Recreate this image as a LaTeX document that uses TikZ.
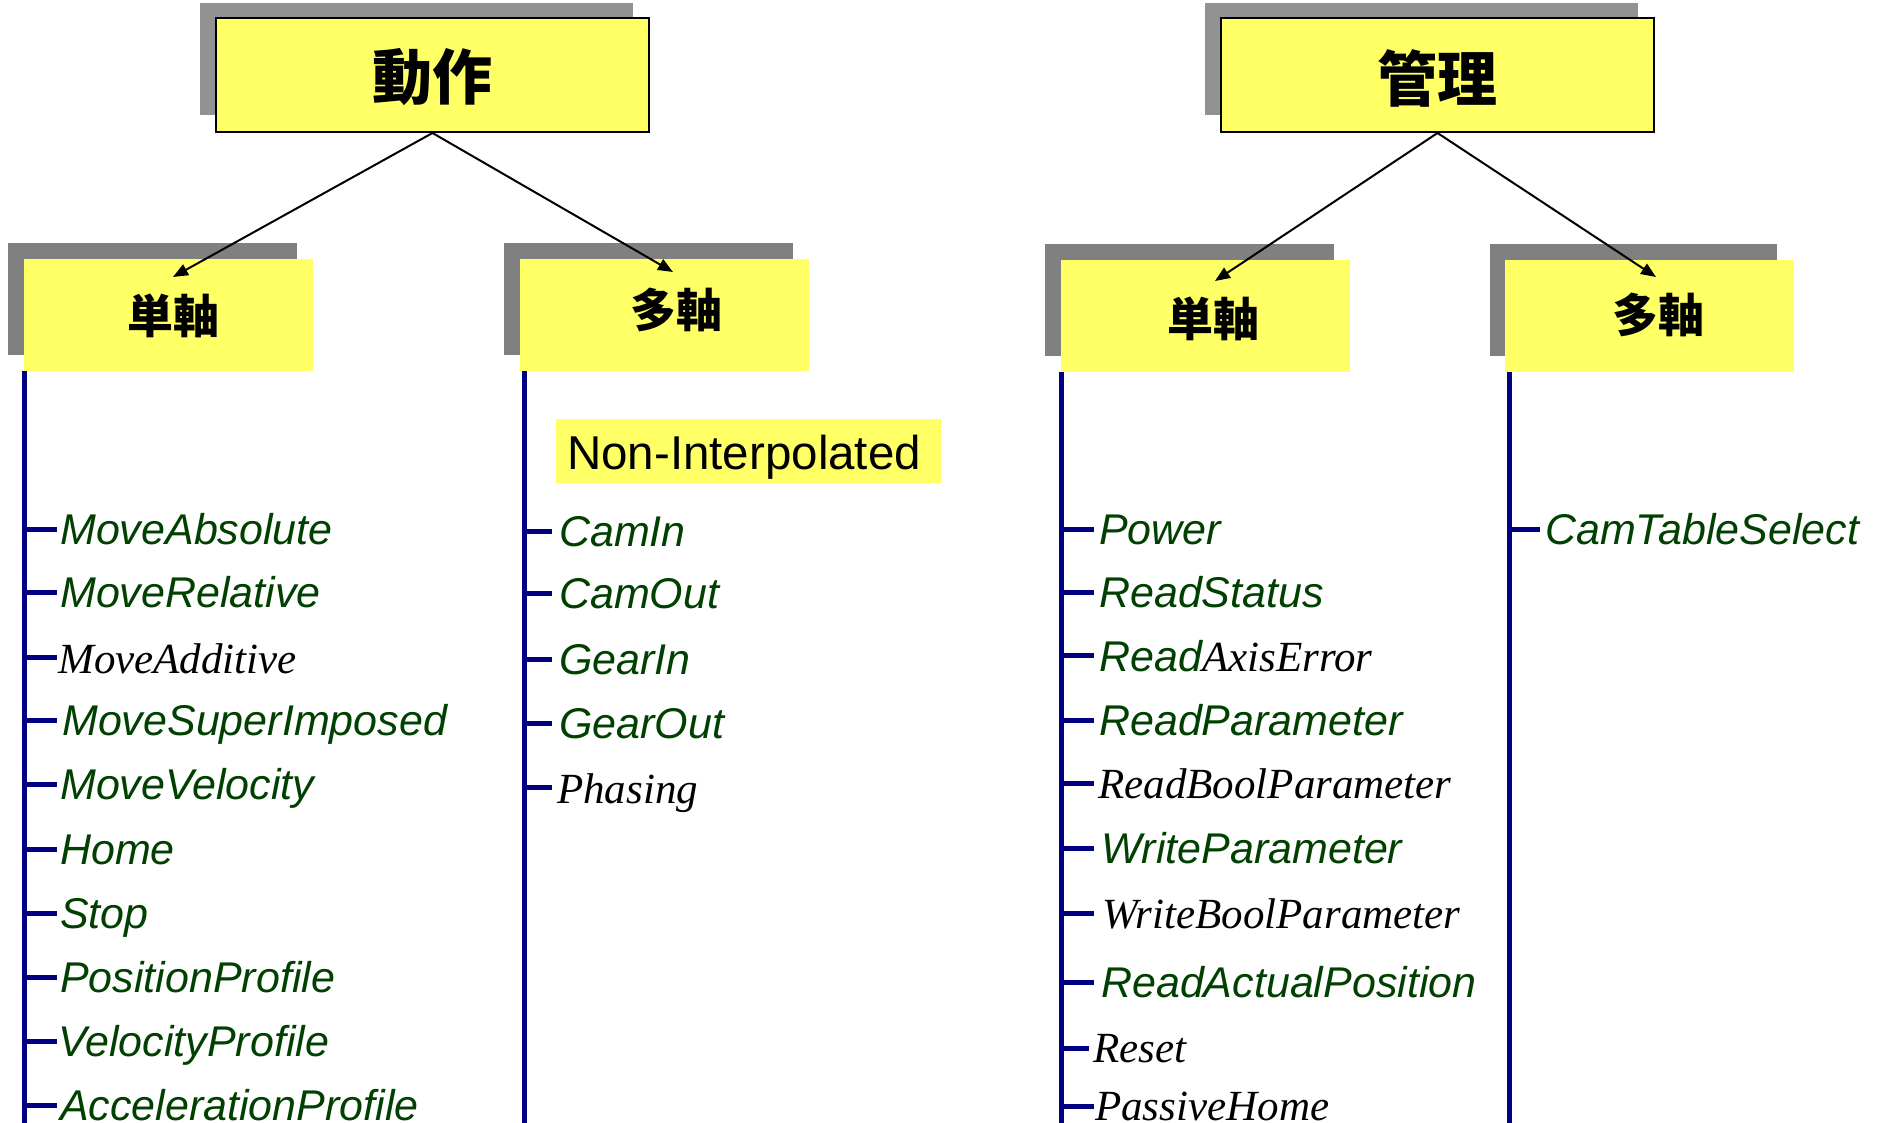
\documentclass[tikz,border=0pt]{standalone}
\usepackage{fontspec}
\setmainfont{Liberation Sans}
\newfontfamily\serifit{Liberation Serif}
\newfontfamily\cjk{Noto Sans CJK JP}
\usetikzlibrary{arrows.meta}
\definecolor{boxyellow}{RGB}{255,255,102}
\definecolor{shadowgray}{RGB}{128,128,128}
\definecolor{shadowlight}{RGB}{146,146,146}
\definecolor{navyline}{RGB}{0,0,128}
\definecolor{itemgreen}{RGB}{0,64,0}
\tikzset{
 topbox/.style={draw=black, line width=2pt, fill=boxyellow, minimum width=433pt, minimum height=114pt, inner sep=0pt},
 toptext/.style={inner sep=0pt, font=\cjk\bfseries\fontsize{60}{60}\selectfont},
 subbox/.style={fill=boxyellow, minimum width=289pt, minimum height=112pt, inner sep=0pt},
 subtext/.style={inner sep=0pt, font=\cjk\bfseries\fontsize{46}{46}\selectfont},
 trunk/.style={navyline, line width=5pt},
 tickline/.style={navyline, line width=5pt},
 gitem/.style={anchor=base west, inner sep=0pt, text=itemgreen, font=\fontsize{43}{50}\selectfont\itshape},
 sitem/.style={anchor=base west, inner sep=0pt, text=black, font=\serifit\fontsize{43}{50}\selectfont\itshape},
 arr/.style={-{Triangle[length=15pt,width=12pt]}, line width=2pt, black},
}
\begin{document}
\begin{tikzpicture}[x=1pt,y=-1pt]
\useasboundingbox (0,0) rectangle (1882,1123);
\fill[white] (0,0) rectangle (1882,1123);

% shadows
\fill[shadowlight] (200,3) rectangle (633,115);
\fill[shadowlight] (1205,3) rectangle (1638,115);
\fill[shadowgray] (8,243) rectangle (297,355);
\fill[shadowgray] (504,243) rectangle (793,355);
\fill[shadowgray] (1045,244) rectangle (1334,356);
\fill[shadowgray] (1490,244) rectangle (1777,356);

% top boxes
\node[topbox] (dosa) at (432.5,75) {};
\node[toptext] (dosaT) at (432,77) {動作};
\node[topbox] (kanri) at (1437.5,75) {};
\node[toptext] (kanriT) at (1437,78) {管理};

% sub boxes
\node[subbox] (ls) at (168.5,315) {};
\node[subtext] (lsT) at (173,316) {単軸};
\node[subbox] (lm) at (664.5,315) {};
\node[subtext] (lmT) at (676,310) {多軸};
\node[subbox] (rs) at (1205.5,316) {};
\node[subtext] (rsT) at (1213,319) {単軸};
\node[subbox] (rm) at (1649.5,316) {};
\node[subtext] (rmT) at (1658,315) {多軸};

% arrows
\coordinate (tls) at (173,277);
\coordinate (tlm) at (673,272);
\coordinate (trs) at (1215,281);
\coordinate (trm) at (1656,277);
\draw[arr] (dosa.south) -- (tls);
\draw[arr] (dosa.south) -- (tlm);
\draw[arr] (kanri.south) -- (trs);
\draw[arr] (kanri.south) -- (trm);

% trunks
\coordinate (bls) at (24,1123);
\coordinate (blm) at (524,1123);
\coordinate (brs) at (1061,1123);
\coordinate (brm) at (1509,1123);
\draw[trunk] (ls.south west -| bls) -- (bls);
\draw[trunk] (524,371) -- (blm);
\draw[trunk] (rs.south west -| brs) -- (brs);
\draw[trunk] (1509,372) -- (brm);

% Non-Interpolated
\node[fill=boxyellow, minimum width=385pt, minimum height=64pt, inner sep=0pt] (nibox) at (748.5,451) {};
\node[anchor=base west, inner sep=0pt, font=\fontsize{47.5}{50}\selectfont] (nitext) at (567,469) {Non-Interpolated};

% left column items
\foreach \y in {529,592,657,720,784,849,913,977,1041,1105}
  \draw[tickline] (24,\y) -- (57,\y);
\node[gitem] (a1) at (60,544) {MoveAbsolute};
\node[gitem] (a2) at (60,607) {MoveRelative};
\node[sitem] (a3) at (58,673) {MoveAdditive};
\node[gitem] (a4) at (62,735) {MoveSuperImposed};
\node[gitem] (a5) at (60,799) {MoveVelocity};
\node[gitem] (a6) at (60,864) {Home};
\node[gitem] (a7) at (60,928) {Stop};
\node[gitem] (a8) at (60,992) {PositionProfile};
\node[gitem] (a9) at (58,1056) {VelocityProfile};
\node[gitem] (a10) at (60,1120) {AccelerationProfile};

% middle column items
\foreach \y in {531,593,659,723,787}
  \draw[tickline] (524,\y) -- (552,\y);
\node[gitem] (b1) at (559,546) {CamIn};
\node[gitem] (b2) at (559,608) {CamOut};
\node[gitem] (b3) at (559,674) {GearIn};
\node[gitem] (b4) at (559,738) {GearOut};
\node[sitem] (b5) at (557,803) {Phasing};

% right single axis items
\foreach \y/\e in {529/1094,592/1094,655/1094,720/1094,783/1094,848/1094,913/1094,982/1094,1048/1089,1106/1094}
  \draw[tickline] (1061,\y) -- (\e,\y);
\node[gitem] (c1) at (1099,544) {Power};
\node[gitem] (c2) at (1099,607) {ReadStatus};
\node[gitem] (c3) at (1099,671) {Read{\color{black}\serifit\itshape AxisError}};
\node[gitem] (c4) at (1099,735) {ReadParameter};
\node[sitem] (c5) at (1098,798) {ReadBoolParameter};
\node[gitem] (c6) at (1101,863) {WriteParameter};
\node[sitem] (c7) at (1102,928) {WriteBoolParameter};
\node[gitem] (c8) at (1101,997) {ReadActualPosition};
\node[sitem] (c9) at (1093,1062) {Reset};
\node[sitem] (c10) at (1095,1120) {PassiveHome};

% right multi axis items
\draw[tickline] (1509,529) -- (1540,529);
\node[gitem] (d1) at (1545,544) {CamTableSelect};
\end{tikzpicture}
\end{document}
